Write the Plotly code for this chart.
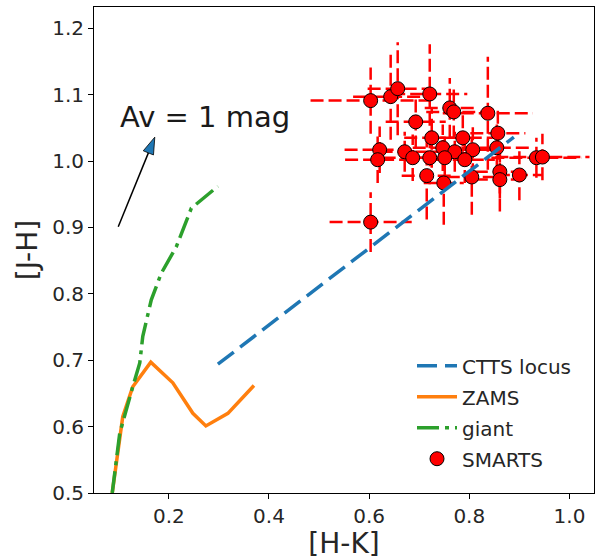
import math
import plotly.graph_objects as go

# ---------------- data ----------------
smarts_hk = [0.603, 0.643, 0.657, 0.721, 0.761, 0.769, 0.837, 0.693, 0.725, 0.787,
             0.857, 0.621, 0.617, 0.671, 0.687, 0.721, 0.747, 0.771, 0.807, 0.855,
             0.934, 0.946, 0.861, 0.861, 0.900, 0.805, 0.749, 0.715, 0.603, 0.751, 0.791]
smarts_jh = [1.091, 1.097, 1.109, 1.101, 1.080, 1.074, 1.072, 1.059, 1.035, 1.035,
             1.042, 1.017, 1.002, 1.014, 1.005, 1.005, 1.020, 1.014, 1.017, 1.020,
             1.005, 1.006, 0.984, 0.972, 0.979, 0.976, 0.967, 0.978, 0.908, 1.005, 1.002]
smarts_hk_err = [0.12, 0.075, 0.06, 0.075, 0.05, 0.055, 0.09, 0.06, 0.055, 0.06,
                 0.055, 0.07, 0.065, 0.05, 0.06, 0.05, 0.06, 0.05, 0.06, 0.07,
                 0.09, 0.094, 0.05, 0.05, 0.045, 0.05, 0.04, 0.05, 0.082, 0.05, 0.06]
smarts_jh_err = [0.05, 0.065, 0.07, 0.075, 0.045, 0.04, 0.085, 0.04, 0.045, 0.04,
                 0.04, 0.035, 0.035, 0.03, 0.035, 0.04, 0.035, 0.03, 0.04, 0.035,
                 0.03, 0.035, 0.04, 0.048, 0.038, 0.057, 0.063, 0.066, 0.045, 0.03, 0.035]

ctts_hk = [0.298, 0.889]
ctts_jh = [0.694, 1.036]

zams_hk = [0.087, 0.098, 0.108, 0.128, 0.164, 0.208, 0.248, 0.274, 0.318, 0.370]
zams_jh = [0.500, 0.565, 0.615, 0.660, 0.697, 0.666, 0.620, 0.601, 0.620, 0.662]

giant_hk = [0.087, 0.102, 0.128, 0.142, 0.148, 0.165, 0.185, 0.215, 0.245, 0.298]
giant_jh = [0.500, 0.590, 0.660, 0.696, 0.736, 0.791, 0.831, 0.871, 0.929, 0.962]

av_tail = (0.099, 0.901)
av_tip = (0.172, 1.036)
av_label = "Av = 1 mag"

x_range = [0.0506, 1.049]
y_range = [0.5, 1.232]

W, H = 597, 560
M = dict(l=94, r=3, t=7, b=67)
FONT = "DejaVu Sans"

# ---------------- error bar segments ----------------
ex, ey = [], []
for x, y, dx, dy in zip(smarts_hk, smarts_jh, smarts_hk_err, smarts_jh_err):
    ex += [x - dx, x + dx, None, x, x, None]
    ey += [y, y, None, y - dy, y + dy, None]

fig = go.Figure()

fig.add_trace(go.Scatter(x=ex, y=ey, mode="lines", showlegend=False, hoverinfo="skip",
                         line=dict(color="#ff0000", width=2.5, dash="13px,5px")))
fig.add_trace(go.Scatter(x=smarts_hk, y=smarts_jh, mode="markers", name="SMARTS",
                         legendrank=4, legendgroup="d",
                         marker=dict(color="#ff0000", size=14,
                                     line=dict(color="#000000", width=1))))
fig.add_trace(go.Scatter(x=ctts_hk, y=ctts_jh, mode="lines", name="CTTS locus",
                         legendrank=1, legendgroup="a",
                         line=dict(color="#1f77b4", width=3.5, dash="20px,8px")))
fig.add_trace(go.Scatter(x=zams_hk, y=zams_jh, mode="lines", name="ZAMS",
                         legendrank=2, legendgroup="b",
                         line=dict(color="#ff7f0e", width=3.5)))
fig.add_trace(go.Scatter(x=giant_hk, y=giant_jh, mode="lines", name="giant",
                         legendrank=3, legendgroup="c",
                         line=dict(color="#2ca02c", width=3.5, dash="22px,6px,4px,6px")))

# ---------------- reddening arrow ----------------
pw = W - M["l"] - M["r"]
ph = H - M["t"] - M["b"]
sx = pw / (x_range[1] - x_range[0])
sy = ph / (y_range[1] - y_range[0])
dxp = (av_tip[0] - av_tail[0]) * sx
dyp = (av_tip[1] - av_tail[1]) * sy
L = math.hypot(dxp, dyp)
ux, uy = dxp / L, dyp / L
head_len, head_half = 17.0, 5.5
bx = av_tip[0] - head_len * ux / sx
by = av_tip[1] - head_len * uy / sy
nx, ny = -uy, ux
c1 = (bx + head_half * nx / sx, by + head_half * ny / sy)
c2 = (bx - head_half * nx / sx, by - head_half * ny / sy)

fig.add_trace(go.Scatter(x=[av_tail[0], bx], y=[av_tail[1], by], mode="lines",
                         showlegend=False, hoverinfo="skip",
                         line=dict(color="black", width=1.5)))
fig.add_trace(go.Scatter(x=[av_tip[0], c1[0], c2[0], av_tip[0]],
                         y=[av_tip[1], c1[1], c2[1], av_tip[1]],
                         mode="lines", fill="toself", fillcolor="#1f77b4",
                         showlegend=False, hoverinfo="skip",
                         line=dict(color="black", width=0.8)))

fig.add_annotation(x=0.099, y=1.066, xref="x", yref="y", text=av_label, showarrow=False,
                   xanchor="left", yanchor="middle",
                   font=dict(family=FONT, size=29, color="#1a1a1a"))

axis_common = dict(showline=True, linecolor="black", linewidth=1, mirror=True,
                   ticks="outside", ticklen=5, tickwidth=1, tickcolor="black",
                   showgrid=False, zeroline=False, tickformat=".1f",
                   tickfont=dict(family=FONT, size=20, color="#262626"))

fig.update_layout(
    width=W, height=H, margin=M,
    paper_bgcolor="white", plot_bgcolor="white",
    font=dict(family=FONT, color="#262626"),
    xaxis=dict(range=x_range, dtick=0.2, tick0=0,
               title=dict(text="[H-K]", font=dict(family=FONT, size=28), standoff=4),
               **axis_common),
    yaxis=dict(range=y_range, dtick=0.1, tick0=0.5,
               title=dict(text="[J-H]", font=dict(family=FONT, size=28), standoff=6),
               **axis_common),
    legend=dict(x=0.636, y=0.302, xanchor="left", yanchor="top",
                bgcolor="rgba(0,0,0,0)", font=dict(family=FONT, size=20, color="#262626"),
                itemwidth=40, tracegroupgap=2),
    showlegend=True,
)

fig.write_html("out.html")
